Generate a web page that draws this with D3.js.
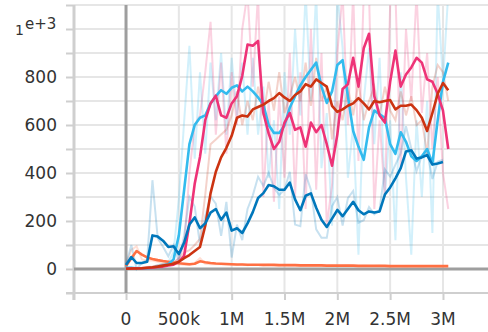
<!DOCTYPE html>
<html>
<head>
<meta charset="utf-8">
<script src="https://cdn.jsdelivr.net/npm/d3@7"></script>
<style>
  body { margin: 0; background: #fff; }
  text { font-family: "DejaVu Sans", sans-serif; fill: #333; }
</style>
</head>
<body>
<script>
// training steps, in thousands
var steps = [0,50,100,150,200,250,300,350,400,450,500,550,600,650,700,750,800,850,900,950,
  1000,1050,1100,1150,1200,1250,1300,1350,1400,1450,1500,1550,1600,1650,1700,1750,1800,1850,1900,1950,
  2000,2050,2100,2150,2200,2250,2300,2350,2400,2450,2500,2550,2600,2650,2700,2750,2800,2850,2900,2950,
  3000,3050];

// smoothed values
var orangeSmooth = [12,45,75,60,48,42,37,33,30,27,24,22,20,22,32,28,25,23,22,21,20,19,19,18,
  18,18,17,17,17,16,16,16,16,15,15,15,15,15,14,14,14,14,14,14,13,13,13,13,13,13,12,12,
  12,12,12,12,12,12,12,12,12,12];
var blueSmooth = [17,50,25,25,30,140,135,118,92,95,62,110,185,215,170,190,235,250,205,235,
  160,170,150,190,237,296,316,350,345,330,330,360,290,245,305,315,255,205,175,210,
  246,220,250,280,245,228,240,235,240,310,340,378,420,490,495,460,465,475,435,440,446];
var redSmooth = [1,2,2,3,5,7,10,14,18,22,30,45,58,75,92,180,315,405,465,505,555,630,640,635,
  665,675,685,700,712,733,715,700,725,740,770,760,790,775,760,680,655,665,680,690,712,690,665,700,
  695,700,704,665,680,680,685,662,630,575,650,730,775,745];
var cyanSmooth = [5,5,3,2,3,5,10,15,20,40,140,330,520,600,630,640,690,720,745,730,755,765,740,760,
  740,715,685,600,567,567,598,672,720,765,800,830,860,760,692,740,850,870,720,575,510,455,590,660,
  645,630,520,480,570,530,470,450,470,500,440,620,780,860];
var pinkSmooth = [2,2,3,3,4,5,8,10,15,18,30,55,190,355,467,620,690,722,640,630,690,720,805,935,
  930,950,650,565,500,530,610,650,580,590,510,610,570,600,520,430,560,750,770,880,760,920,980,720,
  640,610,780,910,760,810,840,880,860,790,780,730,660,500];

// raw values
var orangeRaw = [12,80,95,40,35,35,30,28,25,22,20,18,17,25,45,22,20,21,20,19,18,17,20,16,
  18,17,16,18,16,15,17,15,16,14,16,14,15,14,13,15,13,14,15,13,12,14,12,13,
  14,12,11,13,12,11,13,12,11,13,12,11,12,11];
var blueRaw = [17,100,0,25,37,370,128,93,53,99,33,140,300,260,103,220,302,272,138,280,
  48,185,120,250,307,384,346,401,338,308,330,405,185,178,395,330,165,130,130,262,
  300,181,295,325,193,203,258,228,247,415,385,435,483,595,502,408,472,490,375,447,455];
var redRaw = [1,3,2,5,8,10,15,20,24,28,42,68,78,100,125,310,520,540,560,580,640,740,600,700,
  620,760,640,780,660,820,650,720,800,700,860,680,880,700,760,540,700,620,760,640,780,620,700,760,
  640,760,660,620,740,640,720,600,620,480,760,850,820,700];
var cyanRaw = [5,5,0,0,5,8,17,22,28,70,290,615,930,460,820,480,860,620,900,560,880,640,860,560,
  880,560,760,380,620,250,820,560,1000,640,1150,700,1150,420,650,180,1150,920,380,600,60,700,920,520,
  880,300,620,120,820,380,60,620,300,700,150,1150,780,1150];
var pinkRaw = [2,2,4,3,5,6,12,13,22,22,48,95,400,600,640,820,1030,560,860,480,820,600,1000,1150,
  760,1150,300,700,280,720,380,900,300,820,250,1000,330,900,180,350,900,1150,600,1150,450,1150,1150,250,
  620,300,1100,1150,420,1000,700,1150,650,900,500,800,400,250];

var yGrid = [-100,0,100,200,300,400,500,600,700,800,900,1000,1100];
var yLabels = [0,200,400,600,800];
var xGrid = [-500,0,500,1000,1500,2000,2500,3000];
var xLabelValues = [0,500,1000,1500,2000,2500,3000];
var xLabels = ['0','500k','1M','1.5M','2M','2.5M','3M'];

var series = [
  {name: 'orange', color: '#ff7043', smooth: orangeSmooth, raw: orangeRaw},
  {name: 'cyan', color: '#33bbee', smooth: cyanSmooth, raw: cyanRaw},
  {name: 'pink', color: '#ee3377', smooth: pinkSmooth, raw: pinkRaw},
  {name: 'red', color: '#cc3311', smooth: redSmooth, raw: redRaw},
  {name: 'blue', color: '#0077bb', smooth: blueSmooth, raw: blueRaw}
];

var svgWidth = 488;
var svgHeight = 332;
var plotLeft = 74, plotTop = 5, plotBottom = 293;

var svg = d3.select('body').append('svg')
  .attr('width', svgWidth)
  .attr('height', svgHeight);

var x = d3.scaleLinear().domain([-500, 3500]).range([73.2, 495.8]);
var y = d3.scaleLinear().domain([-100, 1100]).range([plotBottom, plotTop]);

svg.append('defs').append('clipPath').attr('id', 'plot')
  .append('rect')
  .attr('x', plotLeft).attr('y', plotTop)
  .attr('width', svgWidth - plotLeft).attr('height', plotBottom - plotTop);

// grid
svg.append('g').selectAll('line').data(yGrid.filter(d => d !== 0)).enter().append('line')
  .attr('x1', plotLeft).attr('x2', svgWidth)
  .attr('y1', d => y(d)).attr('y2', d => y(d))
  .attr('stroke', '#e6e6e6').attr('stroke-width', 2);
svg.append('g').selectAll('line').data(xGrid.filter(d => d > 0)).enter().append('line')
  .attr('x1', d => x(d)).attr('x2', d => x(d))
  .attr('y1', plotTop).attr('y2', plotBottom)
  .attr('stroke', '#e6e6e6').attr('stroke-width', 2);

// axes (ticks only, labels added by hand)
var yAxis = svg.append('g')
  .attr('transform', `translate(${plotLeft},0)`)
  .call(d3.axisLeft(y).tickValues(yGrid).tickSize(8).tickFormat(''));
var xAxis = svg.append('g')
  .attr('transform', `translate(0,${plotBottom})`)
  .call(d3.axisBottom(x).tickValues(xGrid).tickSize(7).tickFormat(''));
[yAxis, xAxis].forEach(a => {
  a.select('.domain').remove();
  a.selectAll('line').attr('stroke', '#cfcfcf').attr('stroke-width', 2);
});
svg.append('line')
  .attr('x1', plotLeft).attr('x2', plotLeft).attr('y1', plotTop).attr('y2', plotBottom + 7)
  .attr('stroke', '#cfcfcf').attr('stroke-width', 3);
svg.append('line')
  .attr('x1', plotLeft - 8).attr('x2', svgWidth).attr('y1', plotBottom).attr('y2', plotBottom)
  .attr('stroke', '#cfcfcf').attr('stroke-width', 2);

// zero lines
svg.append('line')
  .attr('x1', x(0)).attr('x2', x(0)).attr('y1', plotTop).attr('y2', plotBottom)
  .attr('stroke', '#9e9e9e').attr('stroke-width', 3);
svg.append('line')
  .attr('x1', plotLeft).attr('x2', svgWidth).attr('y1', y(0)).attr('y2', y(0))
  .attr('stroke', '#9e9e9e').attr('stroke-width', 3);

// lines
var line = d3.line().x(d => x(d[0])).y(d => y(d[1]));
var plot = svg.append('g').attr('clip-path', 'url(#plot)');

series.forEach(s => {
  plot.append('path')
    .datum(d3.zip(steps, s.raw))
    .attr('d', line)
    .attr('fill', 'none')
    .attr('stroke', s.color)
    .attr('stroke-opacity', 0.22)
    .attr('stroke-width', 2);
});
series.forEach(s => {
  plot.append('path')
    .datum(d3.zip(steps, s.smooth))
    .attr('d', line)
    .attr('fill', 'none')
    .attr('stroke', s.color)
    .attr('stroke-width', 2.6)
    .attr('stroke-linejoin', 'round');
});

// tick labels
svg.append('g').selectAll('text').data(yLabels).enter().append('text')
  .attr('x', 57)
  .attr('y', d => y(d))
  .attr('dy', '0.36em')
  .attr('text-anchor', 'end')
  .attr('font-size', '17px')
  .text(d => d);
svg.append('text').attr('x', 15).attr('y', 35).attr('font-size', '14px').text('1');
svg.append('text').attr('x', 25).attr('y', 29).attr('font-size', '15px').text('e+3');

svg.append('g').selectAll('text').data(xLabelValues).enter().append('text')
  .attr('x', d => x(d))
  .attr('y', 325)
  .attr('text-anchor', 'middle')
  .attr('font-size', '17px')
  .text((d, i) => xLabels[i]);
</script>
</body>
</html>
